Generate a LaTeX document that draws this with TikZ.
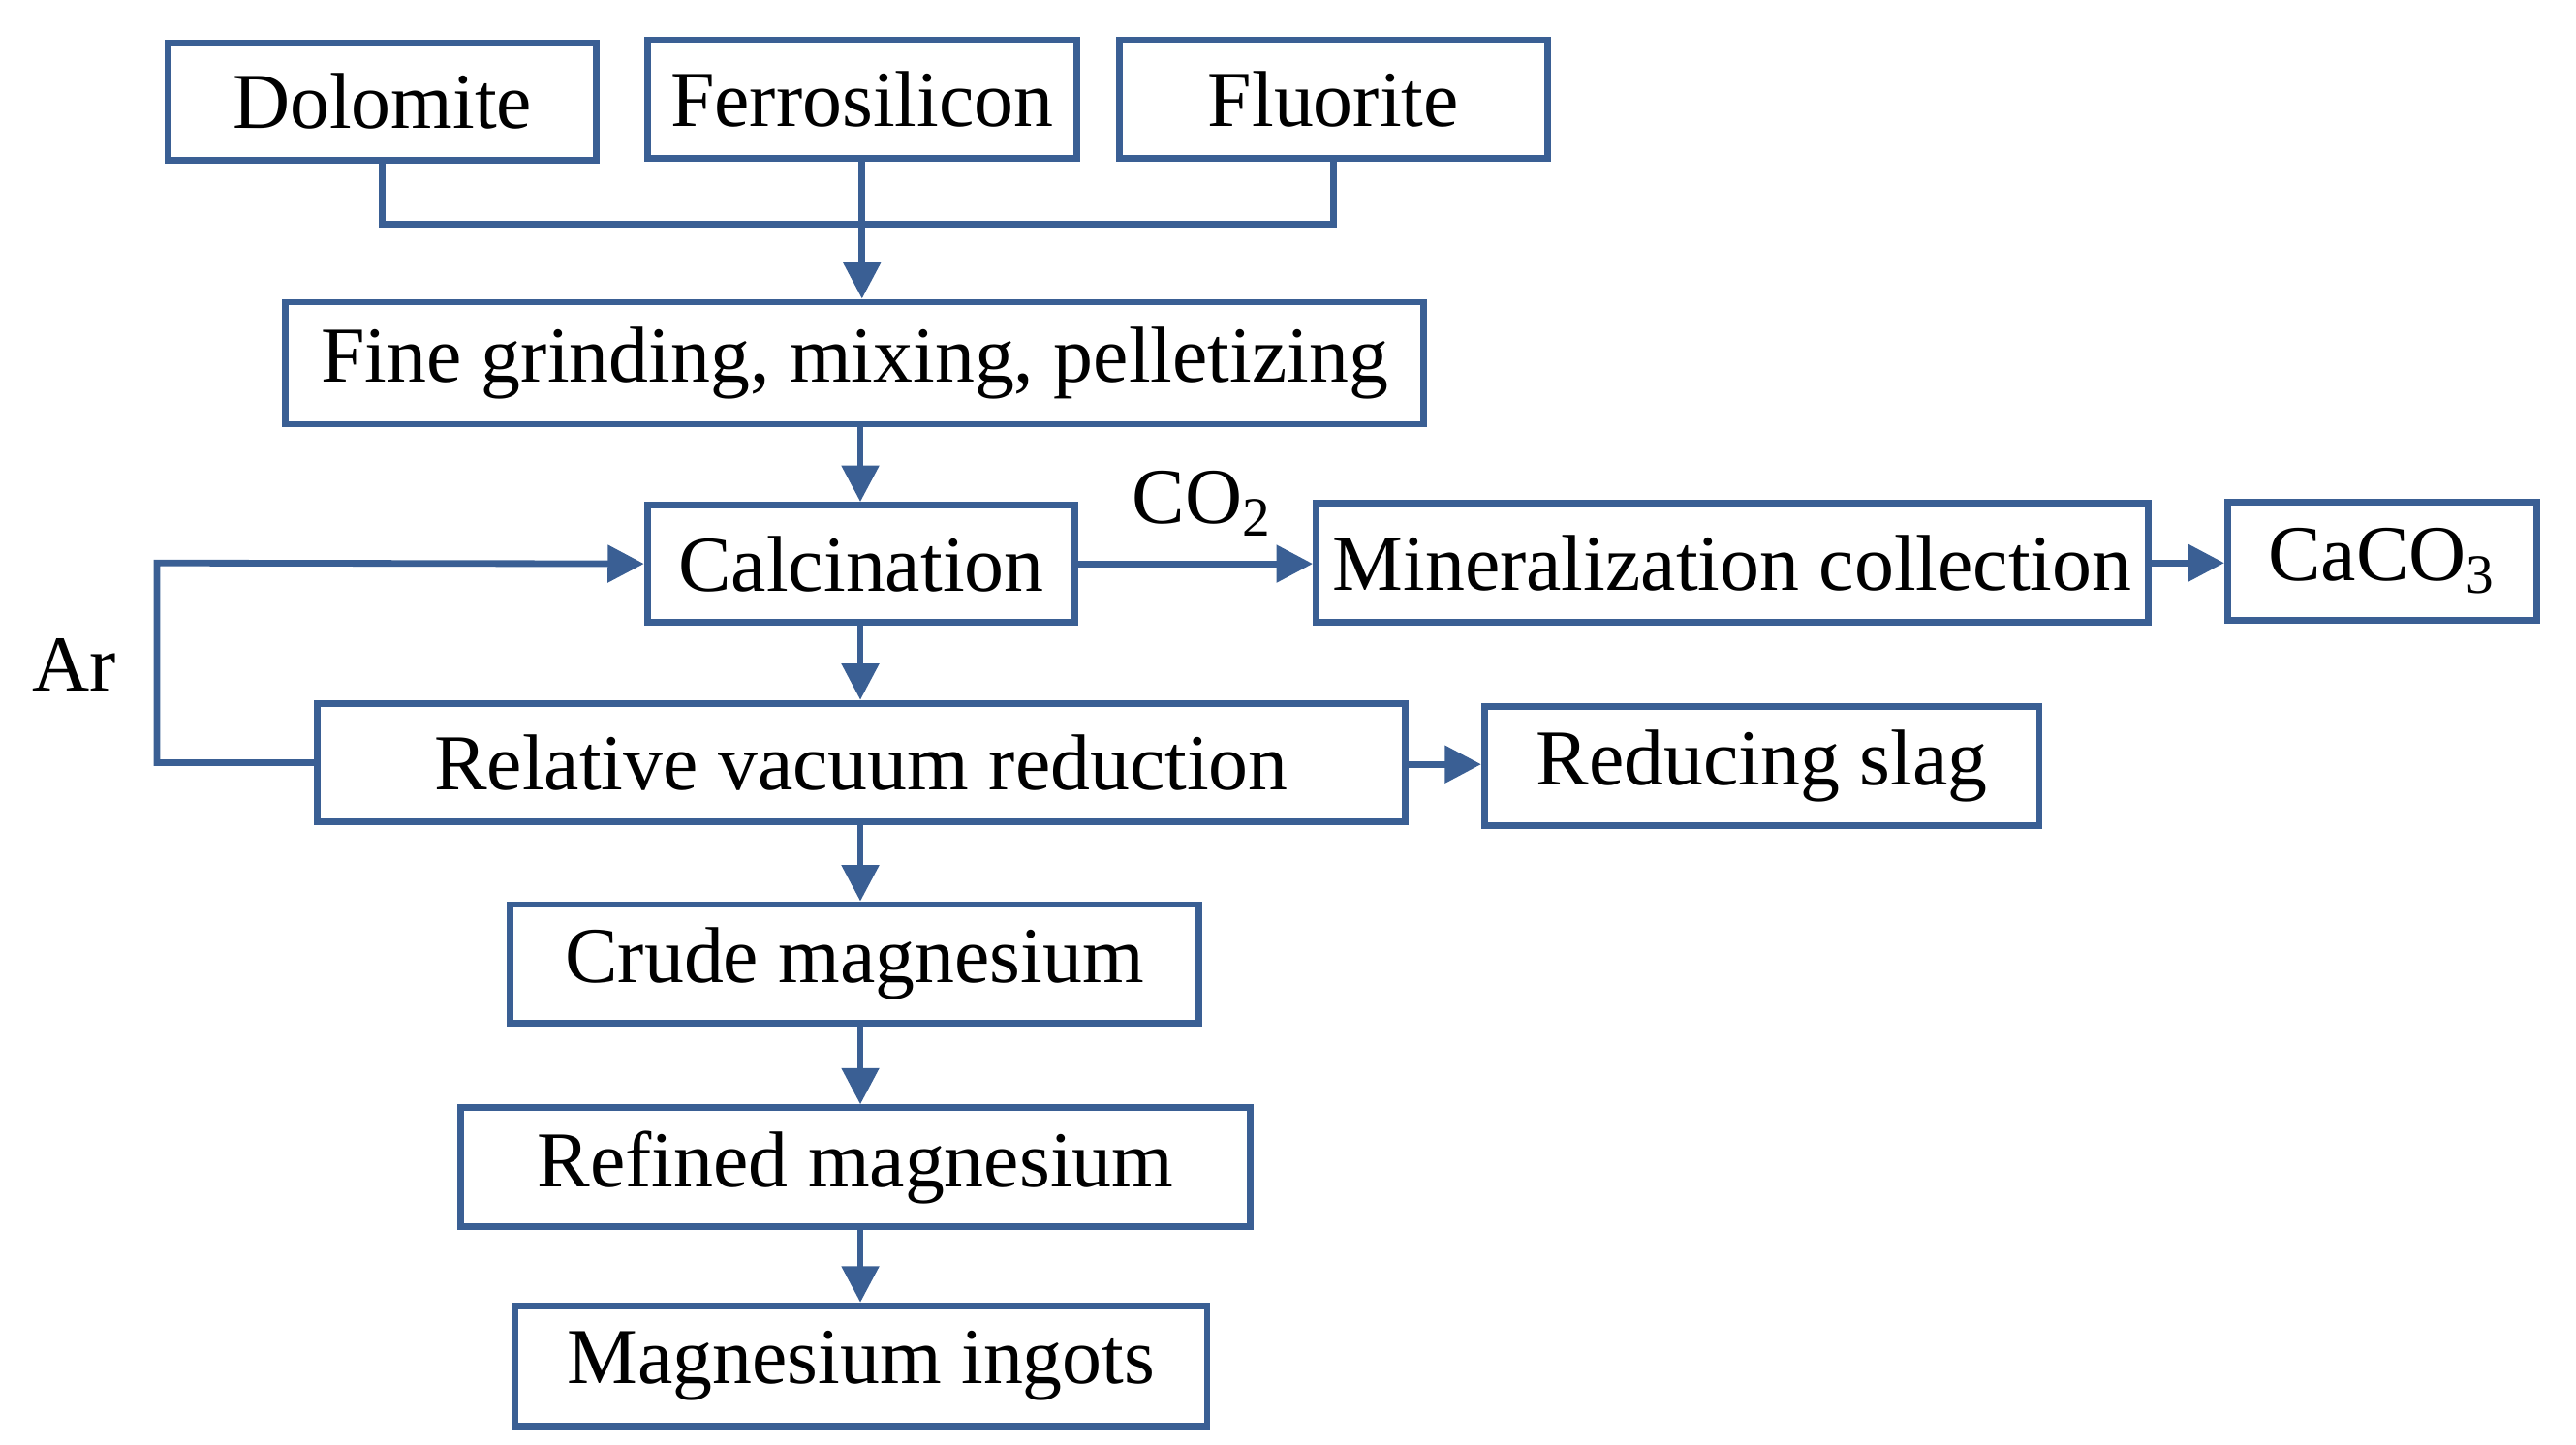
\documentclass[tikz,border=0pt]{standalone}
\usepackage{fontspec}
\setmainfont{Liberation Serif}
\usetikzlibrary{arrows.meta}
\definecolor{lc}{HTML}{3A5F94}
\begin{document}
\begin{tikzpicture}[x=0.5pt,y=-0.5pt,
  box/.style={draw=lc,line width=2pt,inner sep=0pt,font=\fontsize{24}{28}\selectfont},
  ln/.style={draw=lc,line width=2pt},
  ar/.style={ln,-{Triangle[length=11pt,width=11pt]}}]
\useasboundingbox (0,0) rectangle (1560,875);
\newcommand{\bx}[6]{\node[box,minimum width=#4*0.5pt-2pt,minimum height=#5*0.5pt-2pt] (#1) at ({(#2+#4/2)},{(#3+#5/2)}) {#6};}
\bx{dol}{100}{24}{263}{75}{Dolomite}
\bx{fer}{390}{22}{264}{76}{Ferrosilicon}
\bx{flu}{676}{22}{263}{76}{Fluorite}
\bx{fin}{171}{181}{693}{78}{Fine grinding, mixing, pelletizing}
\bx{cal}{390}{304}{263}{75}{Calcination}
\bx{min}{795}{303}{508}{76}{Mineralization collection}
\bx{cac}{1347}{302}{191}{76}{CaCO\textsubscript{3}}
\bx{rvr}{190}{424}{663}{76}{Relative vacuum reduction}
\bx{rs}{897}{426}{340}{76}{Reducing slag}
\bx{cm}{307}{546}{421}{76}{Crude magnesium}
\bx{rm}{277}{669}{482}{76}{Refined magnesium}
\bx{mi}{310}{789}{423}{77}{Magnesium ingots}
\coordinate (j) at (521,136);
\draw[ln] (dol.south) |- (j);
\draw[ln] (flu.south) |- (j);
\draw[ar] (fer.south) -- (fin.north -| fer.south);
\draw[ar] (fin.south -| 521,0) -- (cal.north -| 521,0);
\draw[ar] (cal.east) -- (min.west |- cal.east);
\node[font=\fontsize{24}{28}\selectfont] (co) at (728,305) {CO\textsubscript{2}};
\draw[ar] (min.east |- 0,341) -- (cac.west |- 0,341);
\draw[ar] (cal.south -| 521,0) -- (rvr.north -| 521,0);
\coordinate (a1) at (95,462);
\coordinate (a2) at (95,341);
\draw[ar] (rvr.west) -- (a1) -- (a2) -- (cal.west);
\node[font=\fontsize{24}{28}\selectfont] (ar) at (45,403) {Ar};
\draw[ar] (rvr.east |- 0,463) -- (rs.west |- 0,463);
\draw[ar] (rvr.south -| 521,0) -- (cm.north -| 521,0);
\draw[ar] (cm.south -| 521,0) -- (rm.north -| 521,0);
\draw[ar] (rm.south -| 521,0) -- (mi.north -| 521,0);
\end{tikzpicture}
\end{document}
